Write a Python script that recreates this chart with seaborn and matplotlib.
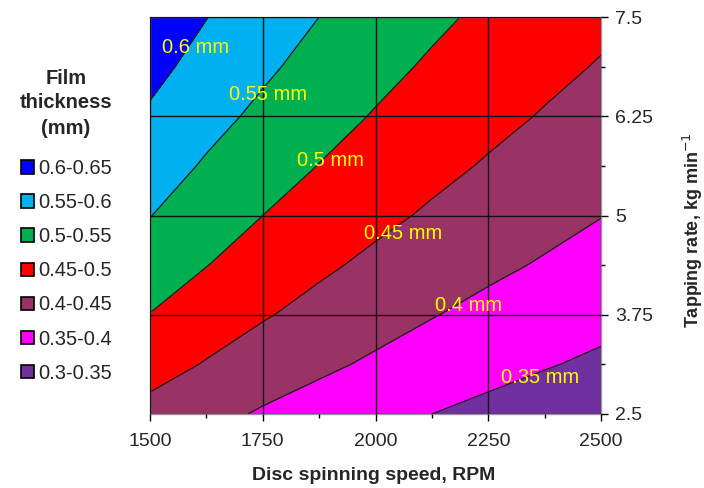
import numpy as np
import pandas as pd
import seaborn as sns
import matplotlib.pyplot as plt
from matplotlib.patches import Patch
from matplotlib.ticker import MultipleLocator

# disc speed (RPM) and tapping rate (kg/min) grid
speed_rpm = [1500, 1625, 1750, 1875, 2000, 2125, 2250, 2375, 2500]
tapping_rate = [2.5, 3.125, 3.75, 4.375, 5.0, 5.625, 6.25, 6.875, 7.5]

# film thickness (mm), one row per tapping rate (low -> high)
thk_2500 = [0.435, 0.414, 0.395, 0.379, 0.364, 0.350, 0.338, 0.327, 0.317]
thk_3125 = [0.469, 0.447, 0.426, 0.409, 0.393, 0.378, 0.365, 0.353, 0.342]
thk_3750 = [0.499, 0.475, 0.454, 0.435, 0.418, 0.402, 0.388, 0.375, 0.364]
thk_4375 = [0.526, 0.501, 0.478, 0.458, 0.440, 0.424, 0.409, 0.396, 0.383]
thk_5000 = [0.551, 0.524, 0.500, 0.479, 0.461, 0.444, 0.428, 0.414, 0.401]
thk_5625 = [0.573, 0.545, 0.521, 0.499, 0.479, 0.462, 0.446, 0.431, 0.417]
thk_6250 = [0.594, 0.565, 0.540, 0.517, 0.497, 0.479, 0.462, 0.447, 0.433]
thk_6875 = [0.613, 0.584, 0.558, 0.534, 0.513, 0.494, 0.477, 0.461, 0.447]
thk_7500 = [0.632, 0.601, 0.574, 0.550, 0.529, 0.509, 0.491, 0.475, 0.460]

levels = [0.30, 0.35, 0.40, 0.45, 0.50, 0.55, 0.60, 0.65]
band_labels = ["0.3-0.35", "0.35-0.4", "0.4-0.45", "0.45-0.5", "0.5-0.55", "0.55-0.6", "0.6-0.65"]
band_colors = ["#7030A0", "#FF00FF", "#993366", "#FF0000", "#00B050", "#00B0F0", "#0000FF"]

# in-plot contour labels
contour_text = ["0.6 mm", "0.55 mm", "0.5 mm", "0.45 mm", "0.4 mm", "0.35 mm"]
contour_text_pos = [(1600, 7.12), (1762, 6.53), (1900, 5.69), (2062, 4.77), (2207, 3.87), (2365, 2.96)]

sns.set_theme(style="white")
plt.rcParams['font.family'] = ['Liberation Sans', 'DejaVu Sans']

df = pd.DataFrame([thk_2500, thk_3125, thk_3750, thk_4375, thk_5000,
                   thk_5625, thk_6250, thk_6875, thk_7500],
                  index=tapping_rate, columns=speed_rpm)

fig = plt.figure(figsize=(7.04, 4.88), dpi=100)
ax = fig.add_axes([150/704, 1-414/488, 451/704, 397/488])

X, Y = np.meshgrid(df.columns.values, df.index.values)
ax.contourf(X, Y, df.values, levels=levels, colors=band_colors)
ax.contour(X, Y, df.values, levels=levels, colors="#1a1a1a", linewidths=0.9)

ax.set_xlim(1500, 2500)
ax.set_ylim(2.5, 7.5)
ax.xaxis.set_major_locator(MultipleLocator(250))
ax.xaxis.set_minor_locator(MultipleLocator(125))
ax.yaxis.set_minor_locator(MultipleLocator(0.625))
ax.set_yticks([2.5, 3.75, 5, 6.25, 7.5])
ax.set_yticklabels(["2.5", "3.75", "5", "6.25", "7.5"])
ax.yaxis.tick_right()
ax.yaxis.set_label_position("right")
ax.tick_params(which="major", direction="out", length=5, width=1, color="black",
               labelsize=14, bottom=True, right=True, left=False)
ax.tick_params(axis="x", which="major", pad=9)
ax.tick_params(axis="y", which="major", pad=5)
ax.tick_params(which="minor", direction="out", length=3, width=1, color="black",
               bottom=True, right=True, left=False)
ax.grid(True, which="major", color="#111111", linewidth=1)
ax.set_axisbelow(False)
for s in ax.spines.values():
    s.set_color("#999999")
    s.set_linewidth(1)

for txt, (tx, ty) in zip(contour_text, contour_text_pos):
    ax.text(tx, ty, txt, color="#FFFF00", fontsize=14.5, ha="center", va="center", zorder=5)

ax.set_xlabel("Disc spinning speed, RPM", fontsize=14, fontweight="bold")
ax.xaxis.set_label_coords(0.495, -0.134)
ax.set_ylabel("Tapping rate, kg min$^{-1}$", fontsize=13, fontweight="bold")
ax.yaxis.set_label_coords(1.178, 0.463)

fig.text(66/704, 1-103/488, "Film\nthickness\n(mm)", ha="center", va="center",
         fontsize=14.5, fontweight="bold", linespacing=1.4)
handles = [Patch(facecolor=c, edgecolor="black", linewidth=1.2) for c in band_colors[::-1]]
fig.legend(handles, band_labels[::-1], loc="upper left", bbox_to_anchor=(21/704, 1-159/488),
           frameon=False, fontsize=14.5, handlelength=0.65, handleheight=0.65,
           handletextpad=0.2, labelspacing=0.75, borderpad=0, borderaxespad=0)

fig.savefig("out.png", dpi=100)
